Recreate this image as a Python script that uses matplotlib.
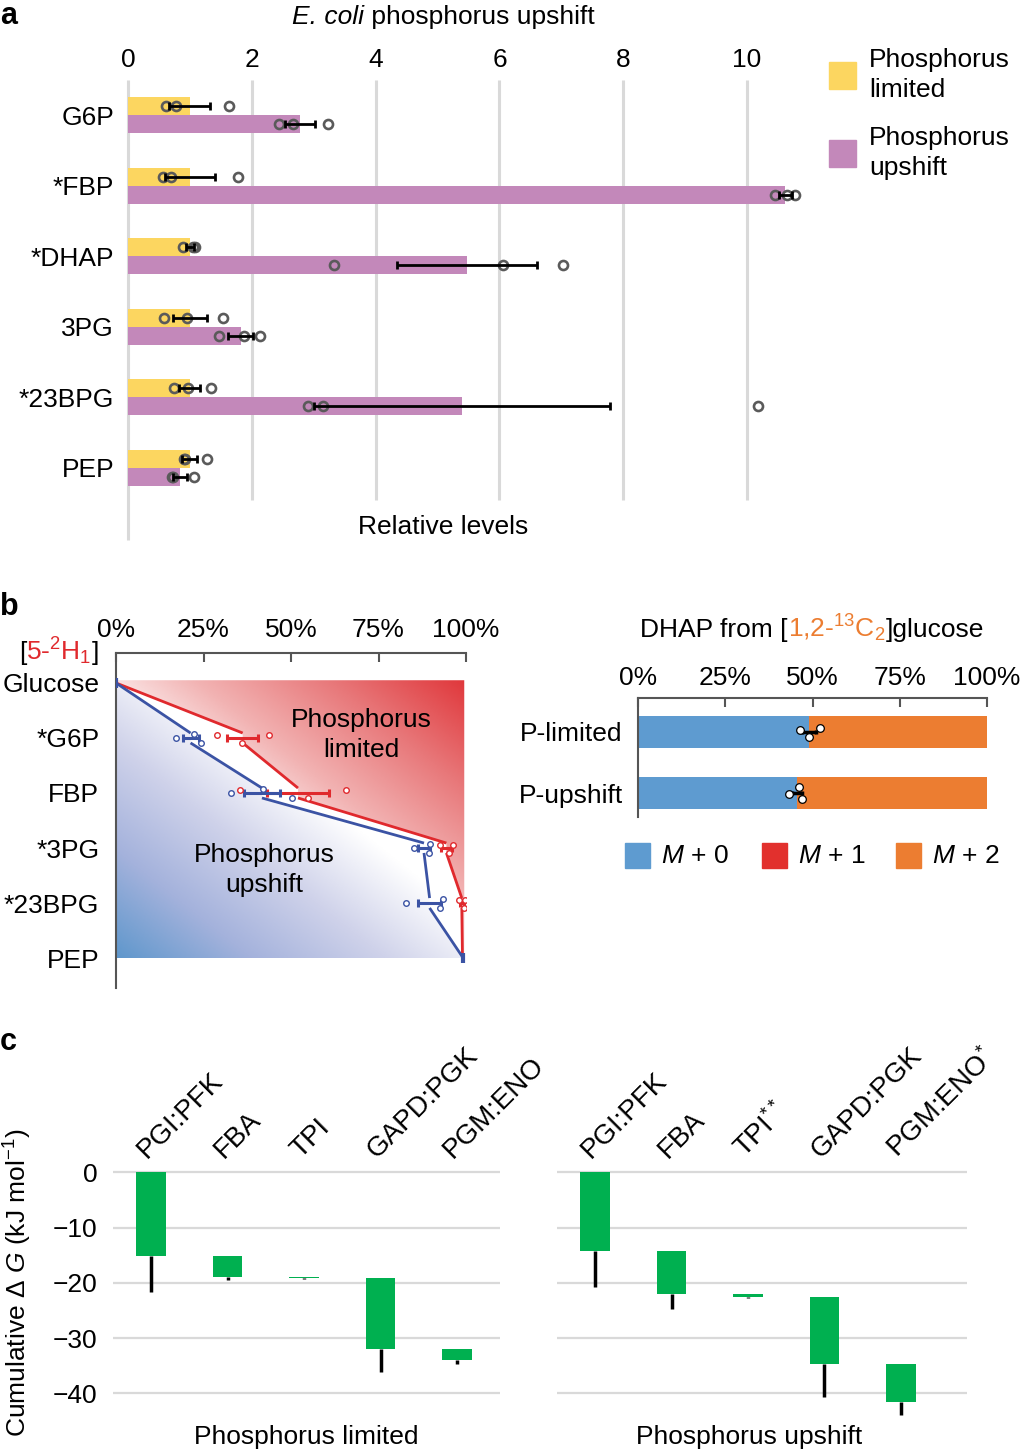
import numpy as np
import matplotlib
matplotlib.use('Agg')
import matplotlib.pyplot as plt
from matplotlib.patches import Rectangle, Polygon
from matplotlib.colors import LinearSegmentedColormap

W, H = 1021, 1453

# ---- panel a: relative levels ----
met_a = ['G6P', '*FBP', '*DHAP', '3PG', '*23BPG', 'PEP']
lim_mean = [1.0, 1.0, 1.0, 1.0, 1.0, 1.0]
lim_err = [0.33, 0.40, 0.06, 0.28, 0.17, 0.12]
lim_pts = [[0.61, 0.78, 1.63], [0.57, 0.69, 1.78], [0.89, 1.05, 1.08],
           [0.58, 0.95, 1.53], [0.74, 0.97, 1.34], [0.90, 0.92, 1.28]]
up_mean = [2.78, 10.62, 5.47, 1.82, 5.40, 0.84]
up_err = [0.24, 0.10, 1.13, 0.20, 2.39, 0.11]
up_pts = [[2.44, 2.67, 3.23], [10.45, 10.65, 10.78], [3.33, 6.06, 7.03],
          [1.47, 1.87, 2.13], [2.91, 3.15, 10.18], [0.71, 0.73, 1.07]]
ticks_a = [0, 2, 4, 6, 8, 10]

# ---- panel b left: [5-2H1] label fraction ----
met_b = ['Glucose', '*G6P', 'FBP', '*3PG', '*23BPG', 'PEP']
hl_mean = [0, 36.2, 52.0, 94.4, 98.8, 99.0]
hl_err = [0, 4.5, 8.8, 1.5, 0.6, 0]
hl_pts = [[], [28.8, 36.1, 43.8], [35.5, 54.8, 65.6], [92.6, 95.2, 96.2],
          [97.9, 99.4, 99.7], []]
hu_mean = [0, 21.3, 41.7, 88.0, 89.6, 99.2]
hu_err = [0, 2.3, 5.1, 1.7, 3.3, 0]
hu_pts = [[], [17.2, 22.3, 24.4], [32.8, 41.9, 50.4], [85.0, 89.6, 89.3],
          [82.8, 93.3, 92.6], []]

# ---- panel b right: DHAP isotopologues ----
groups = ['P-limited', 'P-upshift']
m0 = [49.1, 45.5]
m1 = [0.0, 0.0]
m2 = [50.9, 54.5]
m0_err = [2.0, 1.4]
m0_pts = [[46.4, 49.0, 52.1], [43.4, 46.2, 46.9]]
pct_ticks = [0, 25, 50, 75, 100]
pct_labels = ['0%', '25%', '50%', '75%', '100%']

# ---- panel c: cumulative dG ----
steps_lim = ['PGI:PFK', 'FBA', 'TPI', 'GAPD:PGK', 'PGM:ENO']
steps_up = ['PGI:PFK', 'FBA', 'TPI$^{**}$', 'GAPD:PGK', 'PGM:ENO$^{*}$']
dg_lim = [-15.1, -3.8, -0.3, -12.7, -2.0]
dg_lim_err = [6.6, 0.6, 0.1, 4.3, 0.8]
dg_up = [-14.2, -7.9, -0.5, -12.1, -6.8]
dg_up_err = [6.5, 2.6, 0.2, 6.0, 2.4]
dg_ticks = [0, -10, -20, -30, -40]

YELLOW = '#fcd660'
PURPLE = '#c388ba'
RED = '#e0292d'
BLUE = '#3b53a4'
C_M0 = '#5e9bd0'
C_M1 = '#e2302d'
C_M2 = '#ec7d31'
GREEN = '#00b050'
GRID = '#d9d9d9'

plt.rcParams['font.family'] = ['Liberation Sans', 'DejaVu Sans']
plt.rcParams['font.size'] = 19
plt.rcParams['mathtext.fontset'] = 'custom'
plt.rcParams['mathtext.rm'] = 'Liberation Sans'
plt.rcParams['mathtext.it'] = 'Liberation Sans:italic'
plt.rcParams['mathtext.bf'] = 'Liberation Sans:bold'

fig = plt.figure(figsize=(W / 100, H / 100), dpi=100)
renderer = fig.canvas.get_renderer()


def px_axes(l, t, r, b):
    return fig.add_axes([l / W, 1 - b / H, (r - l) / W, (b - t) / H])


def ftext(x, y, s, **kw):
    return fig.text(x / W, 1 - y / H, s, **kw)


def rich(x, y, parts, ha='left'):
    # parts share one baseline at pixel y
    texts, widths = [], []
    for s, kw in parts:
        t = ftext(0, y, s, va='baseline', **kw)
        texts.append(t)
        widths.append(t.get_window_extent(renderer).width)
    total = sum(widths)
    x0 = {'left': x, 'center': x - total / 2, 'right': x - total}[ha]
    for t, w in zip(texts, widths):
        t.set_position((x0 / W, 1 - y / H))
        x0 += w


def square(x, y, size, color):
    fig.patches.append(Rectangle((x / W, 1 - (y + size) / H), size / W, size / H,
                                 transform=fig.transFigure, color=color))


# ================= panel a =================
ax = px_axes(128, 80, 809, 540)
y = np.arange(len(met_a))
off, bh = 0.127, 0.255
ax.vlines(ticks_a[1:], -0.5, 5.45, color=GRID, lw=2.2, zorder=1)
ax.vlines([0], -0.5, 6.02, color=GRID, lw=2.2, zorder=1, clip_on=False)
ax.barh(y - off, lim_mean, height=bh, color=YELLOW, zorder=2)
ax.barh(y + off, up_mean, height=bh, color=PURPLE, zorder=2)
for yy, pts in zip(y - off, lim_pts):
    ax.plot(pts, [yy] * len(pts), 'o', mfc='none', mec='#5a5a5a', ms=6.5, mew=1.9, zorder=3)
for yy, pts in zip(y + off, up_pts):
    ax.plot(pts, [yy] * len(pts), 'o', mfc='none', mec='#5a5a5a', ms=6.5, mew=1.9, zorder=3)
ax.errorbar(lim_mean, y - off, xerr=lim_err, fmt='none', ecolor='k', elinewidth=2,
            capsize=3, capthick=2, zorder=4)
ax.errorbar(up_mean, y + off, xerr=up_err, fmt='none', ecolor='k', elinewidth=2,
            capsize=3, capthick=2, zorder=4)
ax.set_xlim(0, 11)
ax.set_ylim(6.02, -0.496)
for s in ax.spines.values():
    s.set_visible(False)
ax.xaxis.tick_top()
ax.set_xticks(ticks_a)
ax.tick_params(axis='x', length=0, pad=5.5)
ax.set_yticks(y)
ax.set_yticklabels(met_a)
ax.tick_params(axis='y', length=0, pad=10)
ftext(443, 527, 'Relative levels', ha='center', va='center')
rich(443, 24, [('E. coli', dict(style='italic')), (' phosphorus upshift', {})], ha='center')

square(829, 62, 27, YELLOW)
square(829, 140, 27, PURPLE)
ftext(869, 75, 'Phosphorus\nlimited', va='center', linespacing=1.3)
ftext(869, 153, 'Phosphorus\nupshift', va='center', linespacing=1.3)

# ================= panel b left =================
ax = px_axes(116, 653, 466, 988)
rows = np.arange(len(met_b))
d = 0.09
top, bot, right = -0.05, 5.0, 99.5


def path_pts(means):
    pts = [(means[0], 0)]
    for i in range(1, len(means) - 1):
        pts += [(means[i], i - d), (means[i], i + d)]
    pts.append((means[-1], len(means) - 1))
    return pts


red_line = path_pts(hl_mean)
blue_line = path_pts(hu_mean)

ny, nx = 200, 300
u = np.linspace(0, 1, nx)[None, :]
v = np.linspace(0, 1, ny)[:, None]
cm_red = LinearSegmentedColormap.from_list('r', ['#ffffff', '#f2b3b3', '#e8787a', '#e0383c'])
cm_blue = LinearSegmentedColormap.from_list('b', ['#ffffff', '#cfd2ea', '#a4b2dc', '#5f97cc'])
t_red = np.clip(((u + (1 - v)) / 2 - 0.42) / 0.58, 0, 1)
t_blue = np.clip((((1 - u) + v) / 2 - 0.42) / 0.58, 0, 1)

poly_r = Polygon([(0, top), (right, top), (right, bot)] + red_line[::-1],
                 closed=True, fc='none', ec='none')
poly_b = Polygon(blue_line + [(0, bot)], closed=True, fc='none', ec='none')
ax.add_patch(poly_r)
ax.add_patch(poly_b)
im = ax.imshow(cm_red(t_red), extent=[0, right, bot, top], aspect='auto', zorder=1)
im.set_clip_path(poly_r)
im = ax.imshow(cm_blue(t_blue), extent=[0, right, bot, top], aspect='auto', zorder=1)
im.set_clip_path(poly_b)

for line, c in [(red_line, RED), (blue_line, BLUE)]:
    for k in range(0, len(line) - 1, 2):
        (x0, y0), (x1, y1) = line[k], line[k + 1]
        ax.plot([x0, x1], [y0, y1], color=c, lw=2.0, solid_capstyle='butt', zorder=3)

jit_r = [-0.05, 0.09, -0.05]
jit_b = [0.0, -0.08, 0.09]
for i in range(1, len(met_b) - 1):
    ax.plot(hl_pts[i], [i + j for j in jit_r], 'o', mfc='white', mec=RED, ms=4, mew=1, zorder=5)
    ax.plot(hu_pts[i], [i + j for j in jit_b], 'o', mfc='white', mec=BLUE, ms=4, mew=1, zorder=5)
    ax.errorbar(hl_mean[i], i, xerr=hl_err[i], fmt='none', ecolor=RED, elinewidth=2.2,
                capsize=3, capthick=2.2, zorder=4)
    ax.errorbar(hu_mean[i], i, xerr=hu_err[i], fmt='none', ecolor=BLUE, elinewidth=2.2,
                capsize=3, capthick=2.2, zorder=4)
ax.plot([hu_mean[0], hu_mean[-1]], [0, 5], ls='none', marker='|', ms=7, mew=3,
        color=BLUE, zorder=5)

ax.text(70, 0.95, 'Phosphorus\nlimited', ha='center', va='center', linespacing=1.3, zorder=6)
ax.text(42.3, 3.4, 'Phosphorus\nupshift', ha='center', va='center', linespacing=1.3, zorder=6)

ax.set_xlim(0, 100)
ax.set_ylim(5.545, -0.545)
for k in ['right', 'bottom']:
    ax.spines[k].set_visible(False)
for k in ['top', 'left']:
    ax.spines[k].set_color('#555555')
    ax.spines[k].set_linewidth(1.5)
ax.xaxis.tick_top()
ax.set_xticks(pct_ticks)
ax.set_xticklabels(pct_labels)
ax.tick_params(axis='x', direction='in', length=6.5, width=1.5, color='#555555', pad=8)
ax.set_yticks(rows)
ax.set_yticklabels(met_b)
ax.tick_params(axis='y', length=0, pad=12)
rich(99, 660, [('[', {}), ('5-$^{2}$H$_{1}$', dict(color=RED)), (']', {})], ha='right')

# ================= panel b right =================
ax = px_axes(638, 698, 987, 817)
g = np.arange(len(groups))
bw = 0.52
left1 = np.array(m0)
left2 = left1 + np.array(m1)
ax.barh(g, m0, height=bw, color=C_M0, zorder=2)
ax.barh(g, m1, left=left1, height=bw, color=C_M1, zorder=2)
ax.barh(g, m2, left=left2, height=bw, color=C_M2, zorder=2)
ax.errorbar(m0, g, xerr=m0_err, fmt='none', ecolor='k', elinewidth=2.5, capsize=1.5,
            capthick=2.5, zorder=3)
jit_d = [[-0.03, 0.08, -0.07], [0.01, -0.1, 0.1]]
for gi in g:
    ax.plot(m0_pts[gi], [gi + j for j in jit_d[gi]], 'o', mfc='white', mec='k', ms=5.5,
            mew=0.9, zorder=4)
ax.set_xlim(0, 100)
ax.set_ylim(1.393, -0.557)
for k in ['right', 'bottom']:
    ax.spines[k].set_visible(False)
for k in ['top', 'left']:
    ax.spines[k].set_color('#555555')
    ax.spines[k].set_linewidth(1.5)
ax.xaxis.tick_top()
ax.set_xticks(pct_ticks)
ax.set_xticklabels(pct_labels)
ax.tick_params(axis='x', direction='in', length=6.5, width=1.5, color='#555555', pad=6)
ax.set_yticks(g)
ax.set_yticklabels(groups)
ax.tick_params(axis='y', length=0, pad=11)
rich(812, 637, [('DHAP from [', {}), ('1,2-$^{13}$C$_{2}$', dict(color=C_M2)),
                (']glucose', {})], ha='center')

for xs, c, lab in [(625, C_M0, '$M$ + 0'), (762, C_M1, '$M$ + 1'), (896, C_M2, '$M$ + 2')]:
    square(xs, 843, 25, c)
    ftext(xs + 36, 856, lab, va='center')

# ================= panel c =================
for (l, r, xmax, dg, err, labels, name, show_y) in [
        (113, 500, 4.562, dg_lim, dg_lim_err, steps_lim, 'Phosphorus limited', True),
        (557, 967, 4.863, dg_up, dg_up_err, steps_up, 'Phosphorus upshift', False)]:
    ax = px_axes(l, 1160, r, 1420)
    xs = np.arange(len(dg))
    cum = np.cumsum(dg)
    start = np.concatenate([[0], cum[:-1]])
    for t in dg_ticks:
        ax.axhline(t, color=GRID, lw=1.6, zorder=1)
    ax.bar(xs, dg, bottom=start, width=0.39, color=GREEN, zorder=2)
    ax.vlines(xs, cum - np.array(err), cum, color='k', lw=2.5, zorder=1.5)
    for i, lab in enumerate(labels):
        ax.text(i - 0.05, 2.4, lab, rotation=45, rotation_mode='anchor', ha='left',
                va='baseline', clip_on=False, fontsize=20)
    ax.set_xlim(-0.497, xmax)
    ax.set_ylim(-44.8, 2.22)
    for s in ax.spines.values():
        s.set_visible(False)
    ax.set_xticks([])
    ax.set_yticks(dg_ticks)
    ax.tick_params(axis='y', length=0, pad=11, labelleft=show_y)
    ftext((l + r) / 2 if show_y else 749, 1437, name, ha='center', va='center')

ftext(18, 1283, r'Cumulative $\Delta\ G$ (kJ mol$^{-1}$)', rotation=90, ha='center', va='center')

# panel letters
ftext(0, 1, 'a', fontsize=22, fontweight='bold', va='top')
ftext(0, 615, 'b', fontsize=22, fontweight='bold', va='baseline')
ftext(0, 1050, 'c', fontsize=22, fontweight='bold', va='baseline')

fig.savefig('out.png', dpi=100)
